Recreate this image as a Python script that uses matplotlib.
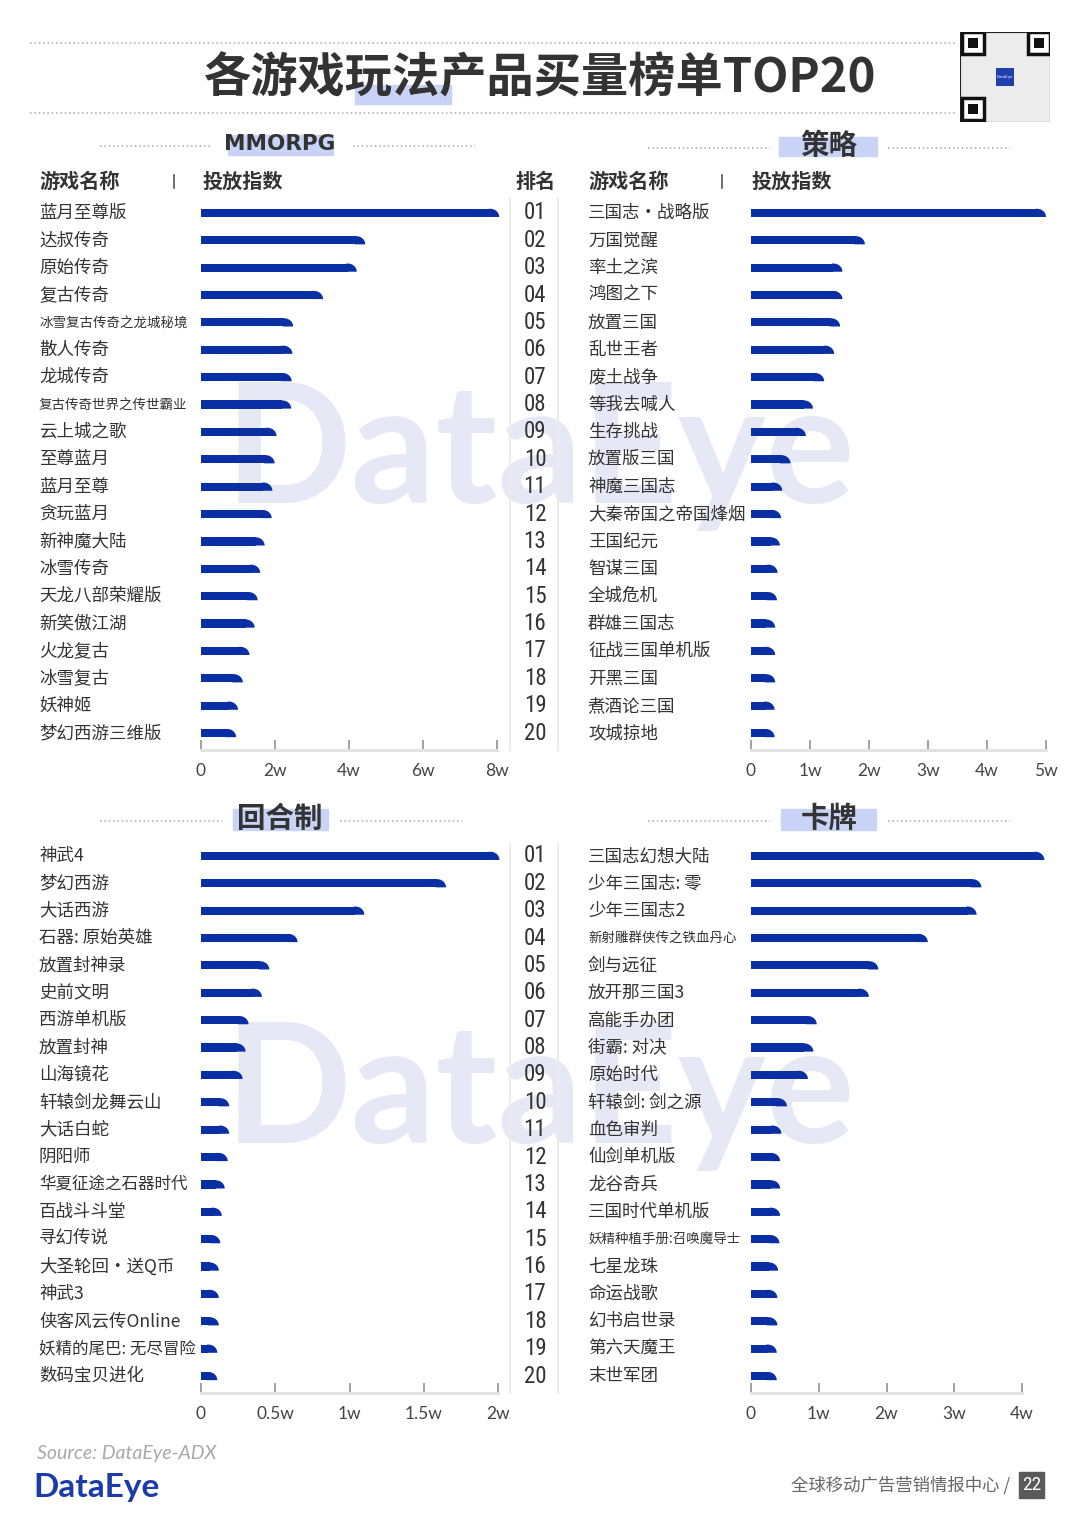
import matplotlib
matplotlib.use('Agg')
import numpy as np
import matplotlib.pyplot as plt
from matplotlib.transforms import blended_transform_factory
from matplotlib.patches import Rectangle, Polygon

plt.rcParams['font.family'] = ['Noto Sans CJK SC', 'DejaVu Sans']

W, H = 1080, 1527

# 数据（单位：万）
mmorpg_names = ['蓝月至尊版', '达叔传奇', '原始传奇', '复古传奇', '冰雪复古传奇之龙城秘境', '散人传奇', '龙城传奇',
                '复古传奇世界之传世霸业', '云上城之歌', '至尊蓝月', '蓝月至尊', '贪玩蓝月', '新神魔大陆', '冰雪传奇',
                '天龙八部荣耀版', '新笑傲江湖', '火龙复古', '冰雪复古', '妖神姬', '梦幻西游三维版']
mmorpg_vals = [8.06, 4.44, 4.21, 3.30, 2.49, 2.47, 2.45, 2.44, 2.04, 1.99, 1.93, 1.91, 1.72, 1.60, 1.53, 1.45,
               1.31, 1.13, 1.00, 0.95]

slg_names = ['三国志·战略版', '万国觉醒', '率土之滨', '鸿图之下', '放置三国', '乱世王者', '废土战争', '等我去喊人',
             '生存挑战', '放置版三国', '神魔三国志', '大秦帝国之帝国烽烟', '王国纪元', '智谋三国', '全城危机',
             '群雄三国志', '征战三国单机版', '开黑三国', '煮酒论三国', '攻城掠地']
slg_vals = [5.00, 1.93, 1.55, 1.55, 1.51, 1.41, 1.24, 1.05, 0.93, 0.67, 0.53, 0.51, 0.49, 0.45, 0.44, 0.41,
            0.41, 0.41, 0.40, 0.40]

turn_names = ['神武4', '梦幻西游', '大话西游', '石器: 原始英雄', '放置封神录', '史前文明', '西游单机版', '放置封神',
              '山海镜花', '轩辕剑龙舞云山', '大话白蛇', '阴阳师', '华夏征途之石器时代', '百战斗斗堂', '寻幻传说',
              '大圣轮回·送Q币', '神武3', '侠客风云传Online', '妖精的尾巴: 无尽冒险', '数码宝贝进化']
turn_vals = [2.01, 1.65, 1.10, 0.65, 0.46, 0.41, 0.32, 0.30, 0.28, 0.19, 0.19, 0.18, 0.16, 0.14, 0.13, 0.12,
             0.12, 0.12, 0.11, 0.11]

card_names = ['三国志幻想大陆', '少年三国志: 零', '少年三国志2', '新射雕群侠传之铁血丹心', '剑与远征', '放开那三国3',
              '高能手办团', '街霸: 对决', '原始时代', '轩辕剑: 剑之源', '血色审判', '仙剑单机版', '龙谷奇兵',
              '三国时代单机版', '妖精种植手册:召唤魔导士', '七星龙珠', '命运战歌', '幻书启世录', '第六天魔王', '末世军团']
card_vals = [4.33, 3.40, 3.33, 2.61, 1.88, 1.74, 0.97, 0.92, 0.84, 0.53, 0.45, 0.43, 0.43, 0.43, 0.42, 0.40,
             0.39, 0.39, 0.38, 0.38]

small_names = {'冰雪复古传奇之龙城秘境', '复古传奇世界之传世霸业', '新射雕群侠传之铁血丹心', '妖精种植手册:召唤魔导士'}
tight_names = {'妖精的尾巴: 无尽冒险', '华夏征途之石器时代'}

mmorpg_ticks = [0, 2, 4, 6, 8]
slg_ticks = [0, 1, 2, 3, 4, 5]
turn_ticks = [0, 0.5, 1, 1.5, 2]
card_ticks = [0, 1, 2, 3, 4]

BLUE = '#0a2ea3'
DARK = '#333333'
HL = '#c9d3f6'
NARROW = ['Roboto Condensed', 'DejaVu Sans Condensed', 'Liberation Sans Narrow', 'DejaVu Sans']

fig = plt.figure(figsize=(W / 100, H / 100), dpi=100)


def fx(x):
    return x / W


def fy(y):
    return 1 - y / H


def hline_dotted(x0, x1, y):
    fig.add_artist(plt.Line2D([fx(x0), fx(x1)], [fy(y), fy(y)], color='#b5b5b5', lw=1.2,
                              linestyle=(0, (1, 1.6)), zorder=1))


def highlight(x0, x1, y0, y1):
    fig.add_artist(Rectangle((fx(x0), fy(y1)), fx(x1) - fx(x0), fy(y0) - fy(y1), color=HL, zorder=1,
                             transform=fig.transFigure))


# 水印
for wy in (455, 1095):
    fig.text(fx(540), fy(wy), 'DataEye', ha='center', va='center', fontsize=120, family='Lato',
             fontweight='bold', color='#e6e8f5', zorder=-5)

# 标题
hline_dotted(30, 955, 43)
hline_dotted(30, 955, 113)
highlight(355, 451, 85, 104)
fig.text(fx(540), fy(78), '各游戏玩法产品买量榜单TOP20', ha='center', va='center', fontsize=34,
         fontweight='heavy', color=DARK, zorder=3)

# 二维码占位
qr = fig.add_axes([fx(960), fy(122), fx(90), fy(32) - fy(122)])
qr.set_xlim(0, 9)
qr.set_ylim(0, 9)
qr.axis('off')
qr.add_patch(Rectangle((0, 0), 9, 9, facecolor='#ececec', edgecolor='#222', lw=0.8))
for (a, b) in [(0, 6.6), (6.6, 6.6), (0, 0)]:
    qr.add_patch(Rectangle((a + 0.2, b + 0.2), 2.2, 2.2, facecolor='white', edgecolor='#111', lw=2.5))
    qr.add_patch(Rectangle((a + 0.8, b + 0.8), 1.0, 1.0, facecolor='#111'))
qr.add_patch(Rectangle((3.6, 3.6), 1.8, 1.8, facecolor='#1f3fae'))
qr.text(4.5, 4.5, 'DataEye', fontsize=3, color='white', ha='center', va='center')


def panel(x0, x1, y_first, names, vals, ticks, tick_labels, title, title_box, title_size, title_family,
          show_rank):
    top = y_first - 13
    bottom = y_first + 19 * 27.37 + 17
    ax = fig.add_axes([fx(x0), fy(bottom), fx(x1) - fx(x0), fy(top) - fy(bottom)])
    ax.patch.set_alpha(0)
    n = len(vals)
    bh = 0.3
    # 右上角圆角：半径约 9 像素
    upp = (ticks[-1] - ticks[0]) / (x1 - x0)
    rx = 9 * upp
    body = [v - rx for v in vals]
    ax.barh(range(n), body, height=bh, color=BLUE, clip_on=False, zorder=2, lw=0)
    t = np.linspace(np.pi / 2, 0, 14)
    for i, v in enumerate(vals):
        c = v - rx
        pts = [(c - 1.5 * upp, i + bh / 2), (c - 1.5 * upp, i - bh / 2)]
        pts += [(c + rx * np.cos(a), i + bh / 2 - bh * np.sin(a)) for a in t]
        ax.add_patch(Polygon(pts, closed=True, facecolor=BLUE, edgecolor='none', clip_on=False, zorder=2))
    ax.set_ylim(19.62, -0.47)
    ax.set_xlim(ticks[0], ticks[-1])
    ax.set_yticks(range(n))
    ax.set_yticklabels([])
    ax.tick_params(axis='y', direction='in', length=6, width=1.2, color='#c9d2f2', left=True)
    ax.set_xticks(ticks)
    ax.set_xticklabels(tick_labels, fontsize=12.5, color='#444444', family='Lato')
    ax.tick_params(axis='x', direction='in', length=7, width=1.3, color='#9a9a9a', pad=9)
    for s in ('left', 'right', 'top'):
        ax.spines[s].set_visible(False)
    ax.spines['bottom'].set_color('#e2e2e2')
    ax.spines['bottom'].set_linewidth(2.2)

    tr = blended_transform_factory(fig.transFigure, ax.transData)
    name_x = 39 if x0 < 500 else 588
    for i, nm in enumerate(names):
        fs = 9.7 if nm in small_names else (11.9 if nm in tight_names else 12.6)
        ax.text(fx(name_x), i, nm, transform=tr, ha='left', va='center', fontsize=fs, color=DARK,
                clip_on=False)
        if show_rank:
            ax.text(fx(535), i, f'{i + 1:02d}', transform=tr, ha='center', va='center', fontsize=16.5,
                    family=NARROW, color=DARK)

    # 分区标题
    cx, ty, bx0, bx1, by0, by1, l0, l1, r0, r1 = title_box
    hline_dotted(l0, l1, ty + 2)
    hline_dotted(r0, r1, ty + 2)
    highlight(bx0, bx1, by0, by1)
    fig.text(fx(cx), fy(ty), title, ha='center', va='center', fontsize=title_size, fontweight='bold',
             color=DARK, family=title_family, zorder=3)
    return ax


panel(201, 497, 213, mmorpg_names, mmorpg_vals, mmorpg_ticks, ['0', '2w', '4w', '6w', '8w'],
      'MMORPG', (280, 144, 228, 333, 135, 155, 100, 210, 353, 475), 15.5, ['DejaVu Sans'], True)
panel(751, 1046, 213, slg_names, slg_vals, slg_ticks, ['0', '1w', '2w', '3w', '4w', '5w'],
      '策略', (829, 146, 779, 877, 137, 156, 648, 770, 888, 1010), 20.5, ['Noto Sans CJK SC'], False)
panel(201, 498, 856, turn_names, turn_vals, turn_ticks, ['0', '0.5w', '1w', '1.5w', '2w'],
      '回合制', (280, 819, 233, 328, 809, 830, 100, 222, 340, 462), 20.5, ['Noto Sans CJK SC'], True)
panel(751, 1022, 856, card_names, card_vals, card_ticks, ['0', '1w', '2w', '3w', '4w'],
      '卡牌', (829, 819, 781, 876, 809, 830, 648, 770, 888, 1010), 20.5, ['Noto Sans CJK SC'], False)

# 表头
for x, t in [(39, '游戏名称'), (203, '投放指数'), (515, '排名'), (588, '游戏名称'), (752, '投放指数')]:
    fig.text(fx(x), fy(181), t, ha='left', va='center', fontsize=14.5, fontweight='bold', color=DARK)
for x in (174, 722):
    fig.add_artist(plt.Line2D([fx(x), fx(x)], [fy(175), fy(188)], color='#555', lw=1.2))

# 排名列两侧的浅色竖线
for y0, y1 in [(198, 750), (843, 1393)]:
    for x in (510, 558):
        fig.add_artist(plt.Line2D([fx(x), fx(x)], [fy(y0), fy(y1)], color='#ececec', lw=1.3))

# 底部
fig.text(fx(37), fy(1453), 'Source: DataEye-ADX', ha='left', va='center', fontsize=14, style='italic',
         family=['Lato', 'DejaVu Sans'], color='#a8a8a8')
fig.text(fx(33), fy(1487), 'DataEye', ha='left', va='center', fontsize=24, fontweight='bold',
         family=['Lato', 'DejaVu Sans'], color='#1a3caa')
fig.text(fx(1010), fy(1485), '全球移动广告营销情报中心 /', ha='right', va='center', fontsize=12.5,
         color='#666666')
fig.add_artist(Rectangle((fx(1019), fy(1498)), fx(25), fy(1472) - fy(1498), color='#5a5a5a',
                         transform=fig.transFigure))
fig.text(fx(1031.5), fy(1485), '22', ha='center', va='center', fontsize=14, color='white',
         family=NARROW)

fig.savefig('out.png', dpi=100, facecolor='white')
